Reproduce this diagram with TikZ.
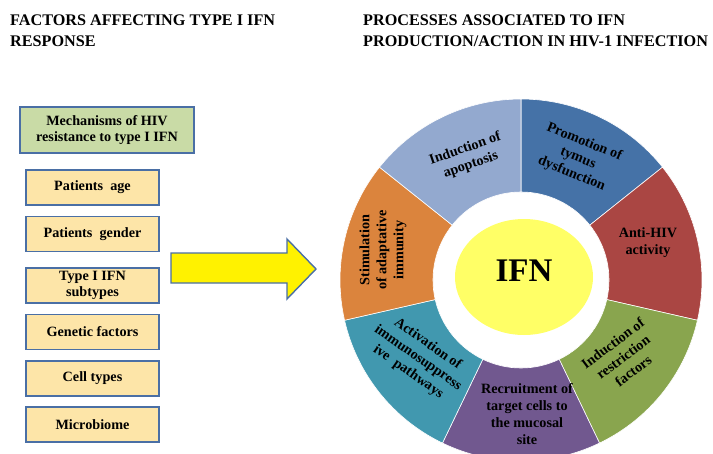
\documentclass[tikz,border=0pt]{standalone}
\usepackage{fontspec}
\setmainfont{Liberation Serif}
\usetikzlibrary{shapes.geometric}
\definecolor{sDarkBlue}{HTML}{4572A7}
\definecolor{sRed}{HTML}{AA4643}
\definecolor{sGreen}{HTML}{89A54E}
\definecolor{sPurple}{HTML}{71588F}
\definecolor{sTeal}{HTML}{4198AF}
\definecolor{sOrange}{HTML}{DB843D}
\definecolor{sLightBlue}{HTML}{93A9CF}
\definecolor{boxBorder}{HTML}{4A6FA5}
\definecolor{boxFill}{HTML}{FDE5A8}
\definecolor{greenFill}{HTML}{C9DBA6}
\definecolor{ifnYellow}{HTML}{FFFF66}
\begin{document}
\begin{tikzpicture}[x=1pt,y=-1pt,
  title/.style={inner sep=0pt, anchor=north west, align=left, font=\fontsize{16.2}{20.5}\selectfont\bfseries},
  factor/.style={draw=boxBorder, line width=1.4pt, fill=boxFill, minimum width=133pt, minimum height=35pt, inner sep=1pt, align=center, font=\fontsize{14.2}{15.5}\selectfont\bfseries},
  segtext/.style={align=center, inner sep=0pt, font=\fontsize{14.2}{17}\selectfont\bfseries}]
\useasboundingbox (0,0) rectangle (713,453);
% titles
\node[title] (tleft) at (10,15) {FACTORS AFFECTING TYPE I IFN\\RESPONSE};
\node[title] (tright) at (363,15) {PROCESSES ASSOCIATED TO IFN\\PRODUCTION/ACTION IN HIV-1 INFECTION};
% factor boxes
\node[factor, fill=greenFill, minimum width=174pt, minimum height=46pt] (mech) at (107,130) {Mechanisms of HIV\\resistance to type I IFN};
\node[factor] (age) at (92.5,187.5) {Patients~~age};
\node[factor] (gender) at (92.5,234) {Patients~~gender};
\node[factor] (subtypes) at (92.5,285.5) {Type I IFN\\subtypes};
\node[factor] (genetic) at (92.5,332) {Genetic factors};
\node[factor] (cells) at (92.5,378.5) {Cell types};
\node[factor] (micro) at (92.5,424.5) {Microbiome};
% big arrow
\draw[draw=boxBorder, line width=1.4pt, fill=yellow, line join=miter]
  (171,253) -- (287,253) -- (287,239) -- (316,269) -- (287,299) -- (287,283) -- (171,283) -- cycle;
% ring
\begin{scope}[shift={(521,280)}, yscale=-1]
  \foreach \col [count=\i from 0] in {sDarkBlue,sRed,sGreen,sPurple,sTeal,sOrange,sLightBlue} {
    \pgfmathsetmacro\aa{90-\i*360/7}
    \pgfmathsetmacro\bb{\aa-360/7}
    \fill[\col, draw=white, line width=0.6pt] (\aa:181) arc[start angle=\aa, end angle=\bb, radius=181] -- (\bb:88) arc[start angle=\bb, end angle=\aa, radius=88] -- cycle;
  }
\end{scope}
\node[ellipse, fill=ifnYellow, minimum width=138pt, minimum height=116pt, inner sep=0pt] (ifnbg) at (524,277) {};
\node[inner sep=0pt, font=\fontsize{33}{33}\selectfont\bfseries] (ifn) at (524,271) {IFN};
% segment labels
\node[segtext, rotate=19] (apop) at (468,157) {Induction of\\apoptosis};
\node[segtext, rotate=-22] (promo) at (578,158) {Promotion of\\tymus\\dysfunction};
\node[segtext] (antihiv) at (648,243) {Anti-HIV\\activity};
\node[segtext, rotate=37] (restr) at (623,357) {Induction of\\restriction\\factors};
\node[segtext] (recruit) at (527,414) {Recruitment of\\target cells to\\the mucosal\\site};
\node[segtext, rotate=-35] (activ) at (418,358) {Activation of\\immunosuppress\\ive~~pathways};
\node[segtext, rotate=90] (stim) at (383,250) {Stimulation\\of adaptative\\immunity};
\end{tikzpicture}
\end{document}
